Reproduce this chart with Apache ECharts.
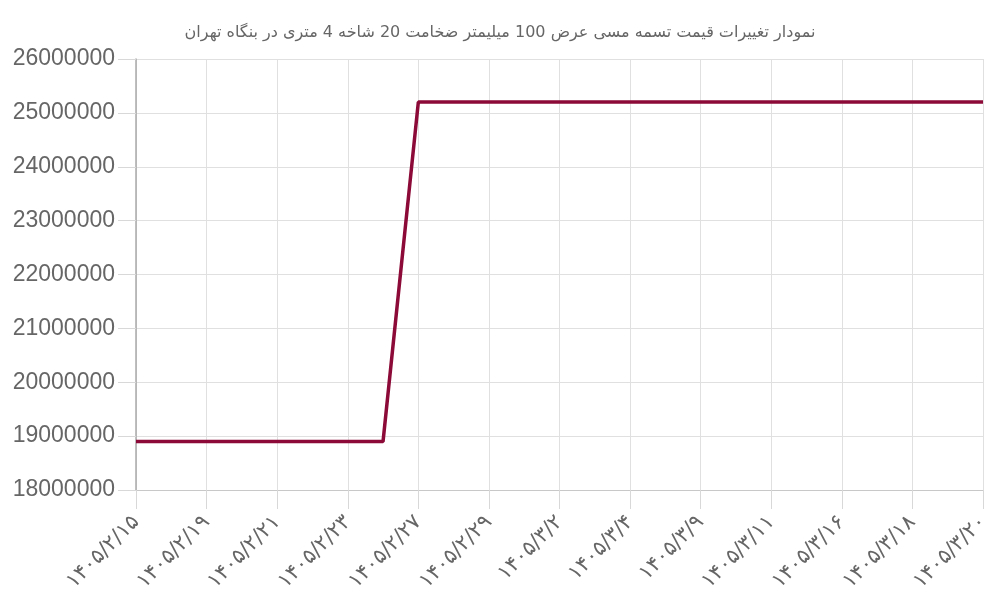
<!DOCTYPE html>
<html>
<head>
  <meta charset="utf-8" />
  <title>نمودار قیمت</title>
  <script src="https://cdn.jsdelivr.net/npm/echarts@6/dist/echarts.min.js"></script>
  <style>
    html, body { margin: 0; padding: 0; background: #fff; }
  </style>
</head>
<body>
<div id="main" style="width: 1000px;height:600px;"></div>
<script type="text/javascript">
  // تاریخ‌ها (هر دو تا یکی برچسب دارد)
  var dates = [
    '۱۴۰۵/۲/۱۵', '۱۴۰۵/۲/۱۶', '۱۴۰۵/۲/۱۹', '۱۴۰۵/۲/۲۰', '۱۴۰۵/۲/۲۱',
    '۱۴۰۵/۲/۲۲', '۱۴۰۵/۲/۲۳', '۱۴۰۵/۲/۲۶', '۱۴۰۵/۲/۲۷', '۱۴۰۵/۲/۲۸',
    '۱۴۰۵/۲/۲۹', '۱۴۰۵/۲/۳۰', '۱۴۰۵/۳/۲', '۱۴۰۵/۳/۳', '۱۴۰۵/۳/۴',
    '۱۴۰۵/۳/۶', '۱۴۰۵/۳/۹', '۱۴۰۵/۳/۱۰', '۱۴۰۵/۳/۱۱', '۱۴۰۵/۳/۱۳',
    '۱۴۰۵/۳/۱۶', '۱۴۰۵/۳/۱۷', '۱۴۰۵/۳/۱۸', '۱۴۰۵/۳/۱۹', '۱۴۰۵/۳/۲۰'
  ];
  // قیمت (ریال)
  var prices = [
    18900000, 18900000, 18900000, 18900000, 18900000,
    18900000, 18900000, 18900000, 25200000, 25200000,
    25200000, 25200000, 25200000, 25200000, 25200000,
    25200000, 25200000, 25200000, 25200000, 25200000,
    25200000, 25200000, 25200000, 25200000, 25200000
  ];
  var yMin = 18000000, yMax = 26000000, yStep = 1000000;

  var chart = echarts.init(document.getElementById('main'));
  var option = {
    animation: false,
    title: {
      text: 'نمودار تغییرات قیمت تسمه مسی عرض 100 میلیمتر ضخامت 20 شاخه 4 متری در بنگاه تهران',
      left: 'center',
      top: 20,
      textStyle: {
        color: '#666',
        fontSize: 16,
        fontWeight: 'normal',
        fontFamily: 'DejaVu Sans'
      }
    },
    grid: { left: 136, right: 17, top: 59, bottom: 110, outerBoundsMode: 'none' },
    xAxis: {
      type: 'category',
      data: dates,
      boundaryGap: false,
      axisLine: { lineStyle: { color: '#c8c8c8', width: 1 } },
      axisTick: { show: true, length: 19, interval: 1, lineStyle: { color: '#d8d8d8' } },
      splitLine: { show: true, interval: 1, lineStyle: { color: '#e0e0e0' } },
      axisLabel: {
        interval: 1,
        rotate: 45,
        margin: 29,
        color: '#666',
        fontSize: 21,
        fontFamily: 'DejaVu Sans'
      }
    },
    yAxis: {
      type: 'value',
      min: yMin,
      max: yMax,
      interval: yStep,
      axisLine: { show: true, lineStyle: { color: '#aaa', width: 1.5 } },
      axisTick: { show: true, length: 18, lineStyle: { color: '#d8d8d8' } },
      splitLine: { lineStyle: { color: '#e0e0e0' } },
      axisLabel: {
        margin: 21,
        color: '#666',
        fontSize: 23,
        fontFamily: 'Liberation Sans',
        formatter: function (v) { return String(v); }
      }
    },
    series: [{
      name: 'قیمت',
      type: 'line',
      data: prices,
      showSymbol: false,
      lineStyle: { color: '#8c0a37', width: 3.5 }
    }]
  };
  chart.setOption(option);
</script>
</body>
</html>
